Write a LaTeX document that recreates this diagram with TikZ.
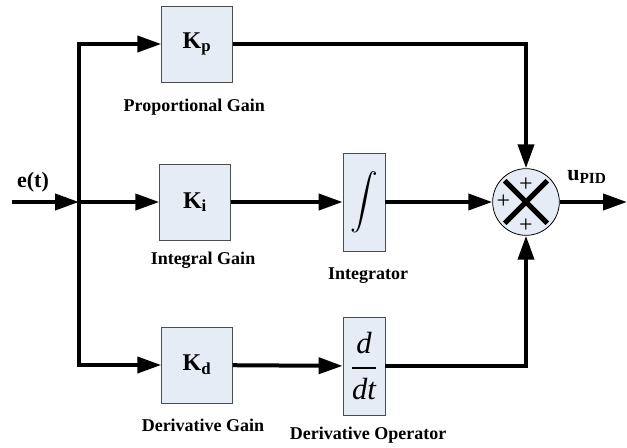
\documentclass[tikz,border=0pt]{standalone}
\usepackage{amsmath}
\usepackage{fontspec}
\setmainfont{Liberation Serif}
\usetikzlibrary{arrows.meta, positioning}
\definecolor{boxfill}{RGB}{230,236,246}
\tikzstyle{block}=[draw=black!70, fill=boxfill, line width=0.6pt, minimum width=53pt, minimum height=57pt, font=\fontsize{18}{20}\selectfont\bfseries]
\tikzstyle{tall}=[block, minimum width=31.5pt, minimum height=73.5pt]
\tikzstyle{lbl}=[inner sep=0pt, font=\fontsize{13.5}{15}\selectfont\bfseries]
\tikzstyle{sig}=[inner sep=0pt, font=\fontsize{16.5}{18}\selectfont\bfseries]
\tikzstyle{sign}=[inner sep=0pt, font=\fontsize{18}{20}\selectfont]

\begin{document}
\begin{tikzpicture}[x=0.75pt, y=-0.75pt, >={Triangle[length=18pt, width=12pt]}, line width=3pt]
    \useasboundingbox (0,0) rectangle (627,447);

    \coordinate (in)  at (12,202);
    \coordinate (br)  at (79,202);
    \coordinate (out) at (627,202);

    \node[block] (kp)  at (197,44)  {K\textsubscript{p}};
    \node[block] (ki)  at (195,202) {K\textsubscript{i}};
    \node[block] (kd)  at (197,365) {K\textsubscript{d}};
    \node[tall]  (int) at (364,202) {\fontsize{20}{22}\selectfont$\displaystyle\int$};
    \node[tall]  (ddt) at (364,366) {\fontsize{23}{26}\selectfont\mdseries$\dfrac{\textit{d}}{\textit{dt}}$};
    \node[circle, draw, fill=boxfill, line width=0.6pt, minimum size=50pt] (sum) at (526,202) {};

    \node[lbl] (lkp)  [below=11pt of kp, xshift=-2pt]  {Proportional Gain};
    \node[lbl] (lki)  [below=7pt of ki, xshift=6pt]    {Integral Gain};
    \node[lbl] (lkd)  [below=10pt of kd, xshift=4.5pt] {Derivative Gain};
    \node[lbl] (lint) [below=11pt of int, xshift=3pt]  {Integrator};
    \node[lbl] (lddt) [below=7pt of ddt, xshift=3pt]   {Derivative Operator};

    \node[sig] (e) at (33,182)  {e(t)};
    \node[sig] (u) at (587,177) {u\textsubscript{PID}};

    % summing junction
    \draw[line width=3.75pt] ([shift={(-16pt,-16pt)}]sum.center) -- ([shift={(16pt,16pt)}]sum.center);
    \draw[line width=3.75pt] ([shift={(-16pt,16pt)}]sum.center) -- ([shift={(16pt,-16pt)}]sum.center);
    \node[sign] (p1) at ([yshift=13pt]sum.center)  {+};
    \node[sign] (p2) at ([xshift=-17pt]sum.center) {+};
    \node[sign] (p3) at ([yshift=-18pt]sum.center) {+};

    \draw[->] (in) -- (br);
    \draw[->] (br) |- (kp);
    \draw[->] (br) -- (ki);
    \draw[->] (br) |- (kd);
    \draw[->] (ki) -- (int);
    \draw[->] (kd) -- (ddt);
    \draw[->] (int) -- (sum);
    \draw[->] (kp) -| (sum);
    \draw[->] (ddt) -| (sum);
    \draw[->] (sum) -- (out);
\end{tikzpicture}
\end{document}
